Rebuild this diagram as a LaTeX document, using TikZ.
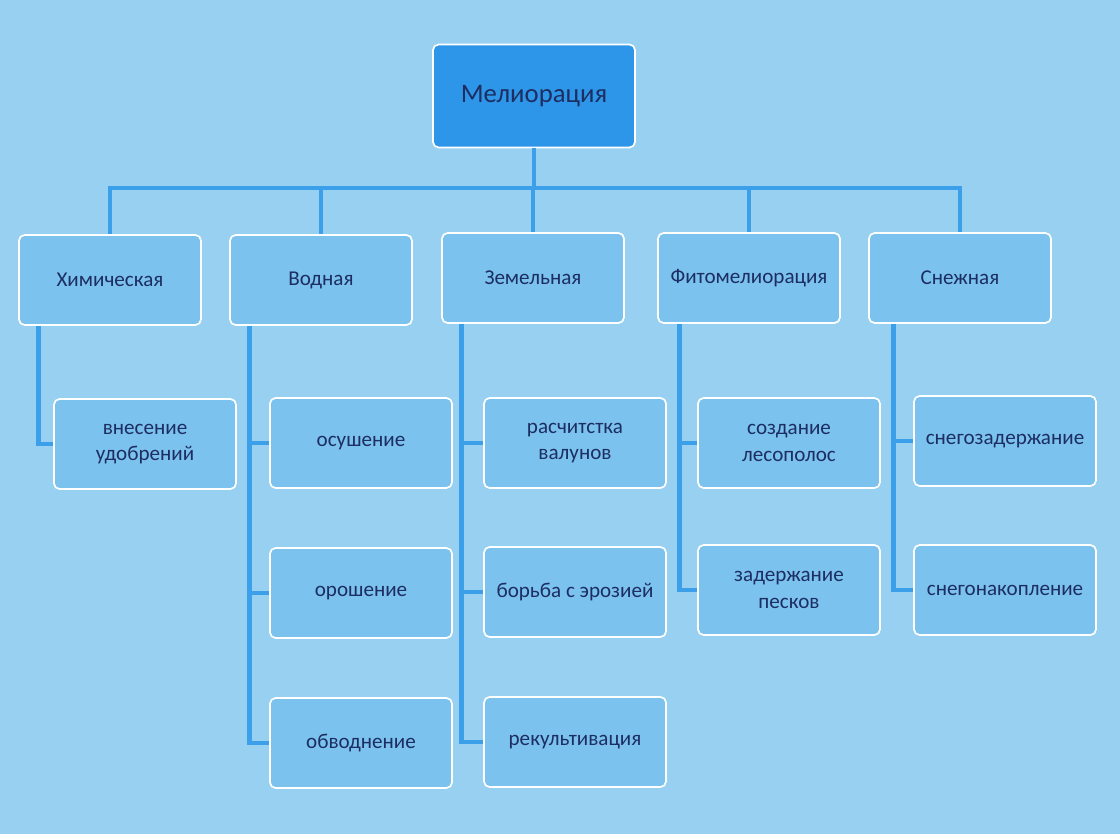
\documentclass[tikz,border=0pt]{standalone}
\usepackage{fontspec}
\setmainfont{Carlito}
\usepackage{xcolor}
\usetikzlibrary{positioning, calc}

\definecolor{bgblue}{HTML}{98D0F2}
\definecolor{boxblue}{HTML}{7CC2EE}
\definecolor{rootblue}{HTML}{2E96E8}
\definecolor{lineblue}{HTML}{3C9FE9}
\definecolor{inkblue}{HTML}{1C2E62}

\begin{document}
\begin{tikzpicture}[x=0.025cm, y=-0.025cm,
    box/.style={draw=white, line width=1.2pt, rounded corners=4pt, fill=boxblue,
      minimum width=4.55cm, minimum height=2.25cm, align=center, text=inkblue,
      font=\fontsize{15}{19}\selectfont},
    rootbox/.style={box, fill=rootblue, minimum width=5.05cm, minimum height=2.575cm,
      font=\fontsize{19}{23}\selectfont},
    link/.style={draw=lineblue, line width=3.5pt}]
    % background (screen)
    \fill[bgblue] (0,0) rectangle (1120,834);

    % top level
    \node[rootbox] (root) at (534,96) {Мелиорация};
    \coordinate (bus) at (534,188);

    % types of melioration
    \node[box] (chem) at (110,280) {Химическая};
    \node[box] (water) at (321,280) {Водная};
    \node[box] (land) at (533,278) {Земельная};
    \node[box] (phyto) at (749,278) {Фитомелиорация};
    \node[box] (snow) at (960,278) {Снежная};

    % measures
    \node[box] (fert) at (145,444) {внесение\\удобрений};
    \node[box] (dry) at (361,443) {осушение};
    \node[box] (irr) at (361,593) {орошение};
    \node[box] (flood) at (361,743) {обводнение};
    \node[box] (boulder) at (575,443) {расчитстка\\валунов};
    \node[box] (erosion) at (575,592) {борьба с эрозией};
    \node[box] (recult) at (575,742) {рекультивация};
    \node[box] (forest) at (789,443) {создание\\лесополос};
    \node[box] (sand) at (789,590) {задержание\\песков};
    \node[box] (snowret) at (1005,441) {снегозадержание};
    \node[box] (snowacc) at (1005,590) {снегонакопление};

    % bus from the root
    \draw[link] (root.south) -- (bus);
    \draw[link, line cap=rect] (chem.north |- bus) -- (snow.north |- bus);
    \draw[link] (chem.north |- bus) -- (chem.north);
    \draw[link] (water.north |- bus) -- (water.north);
    \draw[link] (land.north |- bus) -- (land.north);
    \draw[link] (phyto.north |- bus) -- (phyto.north);
    \draw[link] (snow.north |- bus) -- (snow.north);

    % branches down to the measures
    \draw[link] ($(chem.south west)+(20,0)$) |- (fert.west);
    \draw[link] ($(water.south west)+(20,0)$) |- (dry.west);
    \draw[link] ($(water.south west)+(20,0)$) |- (irr.west);
    \draw[link] ($(water.south west)+(20,0)$) |- (flood.west);
    \draw[link] ($(land.south west)+(20,0)$) |- (boulder.west);
    \draw[link] ($(land.south west)+(20,0)$) |- (erosion.west);
    \draw[link] ($(land.south west)+(20,0)$) |- (recult.west);
    \draw[link] ($(phyto.south west)+(22,0)$) |- (forest.west);
    \draw[link] ($(phyto.south west)+(22,0)$) |- (sand.west);
    \draw[link] ($(snow.south west)+(25,0)$) |- (snowret.west);
    \draw[link] ($(snow.south west)+(25,0)$) |- (snowacc.west);
\end{tikzpicture}
\end{document}
